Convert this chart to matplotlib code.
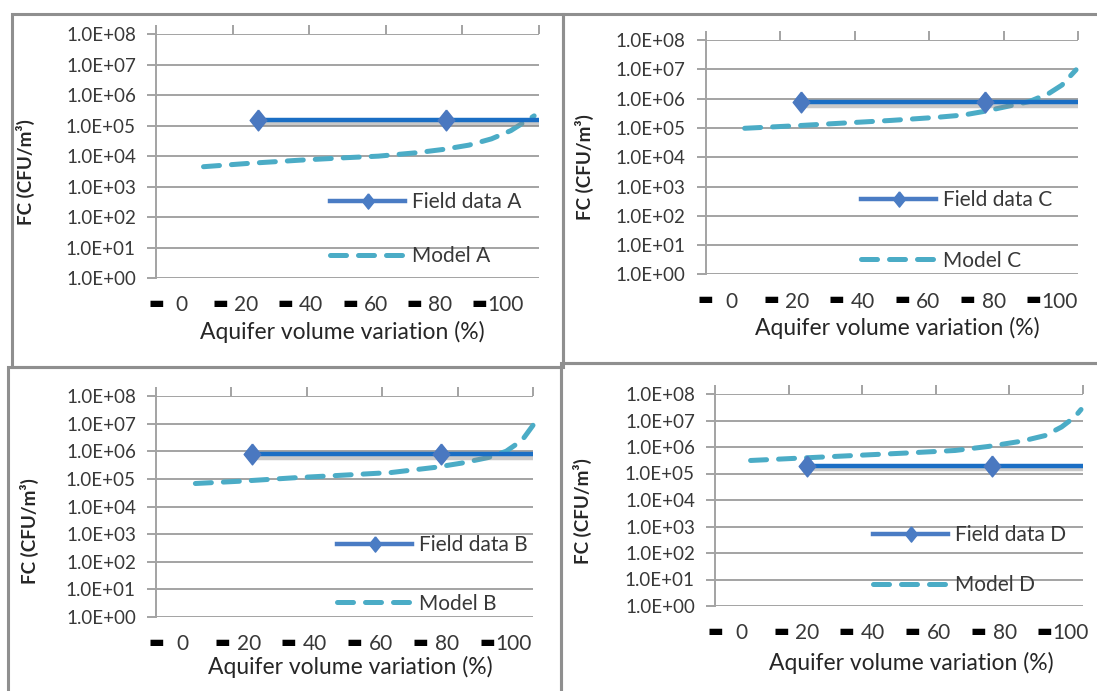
import numpy as np
import matplotlib
matplotlib.use("Agg")
import matplotlib.pyplot as plt
import matplotlib.patheffects as pe
from matplotlib.lines import Line2D
from matplotlib.patches import Rectangle

plt.rcParams['font.family'] = ['Lato', 'DejaVu Sans']

# ---------------- data ----------------
x_tick_values = [0, 20, 40, 60, 80, 100]
y_tick_values = [1e0, 1e1, 1e2, 1e3, 1e4, 1e5, 1e6, 1e7, 1e8]

field_x_A = [23.7, 81.6]
field_A = 1.5e5
model_x_A = [6.7, 20.7, 36.7, 50.8, 60.8, 72.8, 80.8, 88.8, 95.8, 101.8, 109.0]
model_A = [4.5e3, 5.8e3, 7.4e3, 8.9e3, 1.0e4, 1.3e4, 1.66e4, 2.3e4, 3.7e4, 6.9e4, 2.1e5]

field_x_C = [21.0, 77.2]
field_C = 7.6e5
model_x_C = [3.9, 20.5, 33.5, 48.6, 62.7, 70.7, 76.7, 84.7, 90.8, 96.8, 100.8, 105.1]
model_C = [9.7e4, 1.2e5, 1.45e5, 1.8e5, 2.3e5, 2.75e5, 3.6e5, 5.6e5, 7.9e5, 1.5e6, 2.9e6, 9.6e6]

field_x_B = [21.0, 78.0]
field_B = 7.9e5
model_x_B = [3.9, 18.0, 34.0, 48.0, 63.1, 76.2, 84.2, 92.3, 97.8, 102.6, 105.9]
model_B = [6.8e4, 8.3e4, 1.1e5, 1.35e5, 1.7e5, 2.6e5, 3.7e5, 5.9e5, 1.0e6, 2.5e6, 8.7e6]

field_x_D = [20.0, 76.0]
field_D = 2.0e5
model_x_D = [2.8, 19.5, 34.6, 49.8, 64.9, 75.0, 85.1, 92.2, 97.2, 101.3, 103.1]
model_D = [3.1e5, 3.9e5, 4.8e5, 5.9e5, 7.4e5, 1.05e6, 1.66e6, 2.7e6, 5.7e6, 1.4e7, 2.6e7]

# ---------------- layout ----------------
W, H = 1097, 691
fig = plt.figure(figsize=(W / 100, H / 100), dpi=100)

GRID = '#a3a3a3'
TXT = '#383838'
FIELD_LINE = '#1a6ec4'
FIELD_MARK = '#4a78c0'
MODEL = '#4bacc6'
DIAMOND = [(0, 1), (0.8, 0), (0, -1), (-0.8, 0), (0, 1)]


def frac_rect(l, t, r, b):
    return [l / W, 1 - b / H, (r - l) / W, (b - t) / H]


# panel borders (pixel coords)
for (l, t, r, b) in [(12, 14, 562.7, 366.5), (562.7, 14, 1110, 363),
                     (8, 366.5, 560.7, 710), (560.7, 363, 1110, 710)]:
    fig.add_artist(Rectangle((l / W, 1 - b / H), (r - l) / W, (b - t) / H,
                             transform=fig.transFigure, fill=False,
                             ec='#8f8f8f', lw=2.2))

panels = [
    dict(name='A', rect=(156, 34.3, 539, 278), xlim=(-4.5, 110.5),
         fx=field_x_A, fv=field_A, mx=model_x_A, mv=model_A,
         ylab=(-0.316, 0.434), xt=(342, 332), leg=(330, 192), lsp=1.65),
    dict(name='C', rect=(705.7, 40, 1078, 274.4), xlim=(-6.4, 105.7),
         fx=field_x_C, fv=field_C, mx=model_x_C, mv=model_C,
         ylab=(-0.30, 0.457), xt=(897, 328), leg=(861, 190), lsp=1.95),
    dict(name='B', rect=(156, 396, 533, 617), xlim=(-7.3, 105.9),
         fx=field_x_B, fv=field_B, mx=model_x_B, mv=model_B,
         ylab=(-0.311, 0.39), xt=(350, 667), leg=(337, 535), lsp=1.85),
    dict(name='D', rect=(715, 394, 1083, 606), xlim=(-7.8, 103.7),
         fx=field_x_D, fv=field_D, mx=model_x_D, mv=model_D,
         ylab=(-0.333, 0.446), xt=(911, 663), leg=(873, 525), lsp=1.45),
]

for p in panels:
    ax = fig.add_axes(frac_rect(*p['rect']))
    ax.set_yscale('log')
    ax.set_ylim(1, 1e8)
    ax.set_xlim(*p['xlim'])
    ax.set_facecolor('none')

    # grid and spines
    ax.set_yticks(y_tick_values)
    ax.set_yticklabels(['1.0E+%02d' % int(round(np.log10(v))) for v in y_tick_values])
    ax.yaxis.set_minor_locator(matplotlib.ticker.NullLocator())
    ax.yaxis.grid(True, color=GRID, lw=1.4)
    ax.set_axisbelow(True)
    for s in ['top', 'right', 'bottom']:
        ax.spines[s].set_visible(False)
    ax.spines['left'].set_color(GRID)
    ax.spines['left'].set_linewidth(1.4)
    ax.tick_params(axis='y', direction='out', length=6.5, width=1.4, color=GRID,
                   pad=8.0, labelsize=13.5, labelcolor=TXT)

    # x tick labels (numbers) with black dash marks before them
    ax.set_xticks(x_tick_values)
    ax.set_xticklabels([str(v) for v in x_tick_values])
    ax.set_xticks([v - 8 for v in x_tick_values], minor=True)
    ax.set_xticklabels(['\u25ac'] * len(x_tick_values), minor=True,
                       fontfamily='DejaVu Sans')
    ax.tick_params(axis='x', which='major', length=0, pad=12.5, labelsize=15,
                   labelcolor=TXT)
    ax.tick_params(axis='x', which='minor', length=0, pad=11.5, labelsize=12,
                   labelcolor='black')

    # top tick marks
    ax2 = ax.twiny()
    ax2.set_xlim(0, 1)
    ax2.set_xticks(np.linspace(0, 1, 6))
    ax2.tick_params(axis='x', direction='out', length=6.5, width=1.4, color=GRID,
                    labeltop=False)
    for s in ax2.spines.values():
        s.set_visible(False)

    # series
    xr = p['xlim'][1] + 5
    ax.plot(list(p['fx']) + [xr], [p['fv']] * 3, color=FIELD_LINE, lw=3.2,
            solid_capstyle='butt', zorder=4,
            path_effects=[pe.SimpleLineShadow(offset=(0, -2.5), shadow_color='#888888',
                                              alpha=0.45, rho=0.9), pe.Normal()])
    ax.plot(p['fx'], [p['fv']] * 2, ls='none', marker=DIAMOND, ms=15, mfc=FIELD_MARK,
            mec=FIELD_MARK, zorder=5)
    ax.plot(p['mx'], p['mv'], color=MODEL, lw=3.6, ls=(0, (3.2, 2.4)),
            dash_capstyle='round', zorder=3, clip_on=False)

    # labels
    ax.set_ylabel('FC (CFU/m³)', fontsize=13.5, fontweight='bold', color='#262626')
    ax.yaxis.set_label_coords(*p['ylab'])
    fig.text(p['xt'][0] / W, 1 - p['xt'][1] / H, 'Aquifer volume variation (%)',
             ha='center', va='center', fontsize=16.5, color='#262626')

    # legend
    handles = [Line2D([], [], color='#4a7cc4', lw=3.2, marker=DIAMOND, ms=11,
                      mfc='#4a7cc4', mec='#4a7cc4'),
               Line2D([], [], color=MODEL, lw=3.6, ls=(0, (3.2, 2.4)),
                      dash_capstyle='round')]
    ax.legend(handles, ['Field data ' + p['name'], 'Model ' + p['name']],
              loc='upper left', bbox_to_anchor=(p['leg'][0] / W, 1 - p['leg'][1] / H),
              bbox_transform=fig.transFigure, frameon=False, fontsize=15,
              labelcolor=TXT, handlelength=3.6, handletextpad=0.35,
              borderpad=0, borderaxespad=0, labelspacing=p['lsp'])

fig.savefig('out.png', dpi=100)
